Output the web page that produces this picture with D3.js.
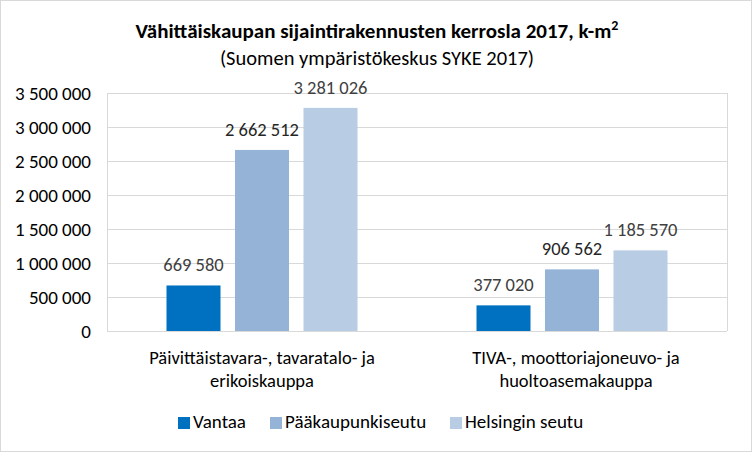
<!DOCTYPE html>
<html><head><meta charset="utf-8">
<script src="https://cdn.jsdelivr.net/npm/d3@7/dist/d3.min.js"></script>
<style>body{margin:0;background:#fff}svg{display:block}text{font-family:Calibri,Carlito,"Liberation Sans",Arial,sans-serif}</style>
</head><body>
<script>
const categories = [["Päivittäistavara-, tavaratalo- ja","erikoiskauppa"],["TIVA-, moottoriajoneuvo- ja","huoltoasemakauppa"]];
const series = ["Vantaa","Pääkaupunkiseutu","Helsingin seutu"];
const values = [[669580,377020],[2662512,906562],[3281026,1185570]];
const colors = ["#0070c0","#95b3d7","#b8cce4"];
const yTicks = [0,500000,1000000,1500000,2000000,2500000,3000000,3500000];

const W=752,H=452;
const svg=d3.select("body").append("svg").attr("width",W).attr("height",H);
svg.append("rect").attr("x",0.5).attr("y",0.5).attr("width",W-1).attr("height",H-1).attr("fill","#fff").attr("stroke","#d9d9d9");

const m={l:107,r:727,t:93,b:331};
const x0=d3.scaleBand().domain([0,1]).range([m.l,m.r]).paddingInner(0).paddingOuter(0);
const y=d3.scaleLinear().domain([0,3500000]).range([m.b,m.t]);
const fmt=v=>d3.format(",")(v).replace(/,/g," ");

// gridlines
svg.append("g").selectAll("line").data(yTicks).join("line")
 .attr("x1",m.l).attr("x2",m.r).attr("y1",d=>Math.round(y(d))+0.5).attr("y2",d=>Math.round(y(d))+0.5)
 .attr("stroke","#d9d9d9").attr("stroke-width",1);
svg.append("line").attr("x1",m.r+0.5).attr("x2",m.r+0.5).attr("y1",m.t).attr("y2",m.b).attr("stroke","#d9d9d9");
svg.append("line").attr("x1",m.l+0.5).attr("x2",m.l+0.5).attr("y1",m.t).attr("y2",m.b).attr("stroke","#d9d9d9");

// y axis labels
const yAxis=d3.axisLeft(y).tickValues(yTicks).tickFormat(fmt).tickSize(0).tickPadding(16);
const ya=svg.append("g").attr("transform",`translate(${m.l},0)`).call(yAxis);
ya.select(".domain").remove();
ya.selectAll("text").attr("font-size",19).attr("fill","#000").attr("dy","0.34em").style("font-family",'Calibri,Carlito,"Liberation Sans",sans-serif');

const bw=54, step=68.5;
series.forEach((s,si)=>{
  const g=svg.append("g");
  values[si].forEach((v,ci)=>{
    const cx=x0(ci)+x0.bandwidth()/2 + (si-1)*step;
    g.append("rect").attr("x",cx-bw/2).attr("width",bw).attr("y",y(v)).attr("height",y(0)-y(v)).attr("fill",colors[si]);
    g.append("text").attr("x",cx).attr("y",y(v)-14).attr("text-anchor","middle").attr("font-size",18.5)
      .attr("fill",si===1?"#262626":"#404040").text(fmt(v));
  });
});

// category labels
categories.forEach((lines,ci)=>{
  const cx=x0(ci)+x0.bandwidth()/2 + (ci===1?4:0);
  lines.forEach((t,li)=>{
    svg.append("text").attr("x",cx).attr("y",364+li*23).attr("text-anchor","middle").attr("font-size",18.5).attr("fill","#000").text(t);
  });
});

// title
svg.append("text").attr("x",377).attr("y",38).attr("text-anchor","middle").attr("font-size",21).attr("font-weight","bold").attr("fill","#000")
 .text("Vähittäiskaupan sijaintirakennusten kerrosla 2017, k-m").append("tspan").attr("font-size",14).attr("dy",-8).text("2");
svg.append("text").attr("x",377).attr("y",65).attr("text-anchor","middle").attr("font-size",20.5).attr("fill","#000").text("(Suomen ympäristökeskus SYKE 2017)");

// legend
const lx=[178,270,450];
series.forEach((s,i)=>{
  svg.append("rect").attr("x",lx[i]).attr("y",417).attr("width",12).attr("height",12).attr("fill",colors[i]);
  svg.append("text").attr("x",lx[i]+15).attr("y",428).attr("font-size",19).attr("fill","#000").text(s);
});
</script>
</body></html>
